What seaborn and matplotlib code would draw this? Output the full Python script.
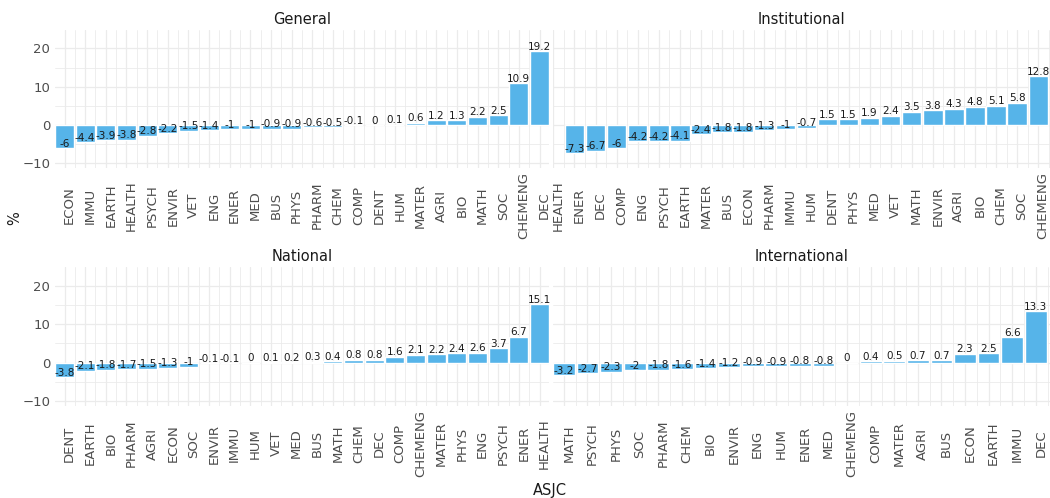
import numpy as np
import pandas as pd
import matplotlib
matplotlib.use("Agg")
import matplotlib.pyplot as plt
import matplotlib.transforms as mtransforms
from matplotlib.ticker import FixedLocator
import seaborn as sns

general_cats = ["ECON", "IMMU", "EARTH", "HEALTH", "PSYCH", "ENVIR", "VET", "ENG", "ENER", "MED",
                "BUS", "PHYS", "PHARM", "CHEM", "COMP", "DENT", "HUM", "MATER", "AGRI", "BIO",
                "MATH", "SOC", "CHEMENG", "DEC"]
general_vals = [-6, -4.4, -3.9, -3.8, -2.8, -2.2, -1.5, -1.4, -1, -1,
                -0.9, -0.9, -0.6, -0.5, -0.1, 0, 0.1, 0.6, 1.2, 1.3,
                2.2, 2.5, 10.9, 19.2]

inst_cats = ["HEALTH", "ENER", "DEC", "COMP", "ENG", "PSYCH", "EARTH", "MATER", "BUS", "ECON",
             "PHARM", "IMMU", "HUM", "DENT", "PHYS", "MED", "VET", "MATH", "ENVIR", "AGRI",
             "BIO", "CHEM", "SOC", "CHEMENG"]
inst_vals = [np.nan, -7.3, -6.7, -6, -4.2, -4.2, -4.1, -2.4, -1.8, -1.8,
             -1.3, -1, -0.7, 1.5, 1.5, 1.9, 2.4, 3.5, 3.8, 4.3,
             4.8, 5.1, 5.8, 12.8]

nat_cats = ["DENT", "EARTH", "BIO", "PHARM", "AGRI", "ECON", "SOC", "ENVIR", "IMMU", "HUM",
            "VET", "MED", "BUS", "MATH", "CHEM", "DEC", "COMP", "CHEMENG", "MATER", "PHYS",
            "ENG", "PSYCH", "ENER", "HEALTH"]
nat_vals = [-3.8, -2.1, -1.8, -1.7, -1.5, -1.3, -1, -0.1, -0.1, 0,
            0.1, 0.2, 0.3, 0.4, 0.8, 0.8, 1.6, 2.1, 2.2, 2.4,
            2.6, 3.7, 6.7, 15.1]

intl_cats = ["MATH", "PSYCH", "PHYS", "SOC", "PHARM", "CHEM", "BIO", "ENVIR", "ENG", "HUM",
             "ENER", "MED", "CHEMENG", "COMP", "MATER", "AGRI", "BUS", "ECON", "EARTH", "IMMU", "DEC"]
intl_vals = [-3.2, -2.7, -2.3, -2, -1.8, -1.6, -1.4, -1.2, -0.9, -0.9,
             -0.8, -0.8, 0, 0.4, 0.5, 0.7, 0.7, 2.3, 2.5, 6.6, 13.3]

panels = [
    ("General", general_cats, general_vals),
    ("Institutional", inst_cats, inst_vals),
    ("National", nat_cats, nat_vals),
    ("International", intl_cats, intl_vals),
]

sns.set_theme(style="white")
plt.rcParams["font.family"] = ["DejaVu Sans"]

W, H = 1050, 498
fig = plt.figure(figsize=(W / 100, H / 100), dpi=100)

# panel boxes in pixels: left, right, top, bottom
boxes = [(55, 549, 30, 168), (553, 1050, 30, 168),
         (55, 549, 267, 406), (553, 1050, 267, 406)]
xlims = [(-0.46, 23.46), (-0.02, 23.56), (-0.46, 23.46), (-0.46, 20.6)]

bar_color = "#56B4E9"
grid_color = "#EBEBEB"
offset = mtransforms.ScaledTranslation(5 / 100, 0, fig.dpi_scale_trans)

for i, ((title, cats, vals), (l, r, t, b)) in enumerate(zip(panels, boxes)):
    ax = fig.add_axes([l / W, 1 - b / H, (r - l) / W, (b - t) / H])
    df = pd.DataFrame({"asjc": cats, "pct": vals})
    sns.barplot(data=df, x="asjc", y="pct", order=cats, color=bar_color,
                width=0.92, saturation=1, ax=ax, errorbar=None)
    n = len(cats)
    for x, v in enumerate(vals):
        if np.isnan(v):
            continue
        ax.annotate(f"{v:g}", (x, v), xytext=(0, 1), textcoords="offset points",
                    ha="center", va="baseline", fontsize=7.5, color="#1A1A1A")
    ax.set_xlim(*xlims[i])
    ax.set_ylim(-11.2, 24.8)
    ax.set_yticks([-10, 0, 10, 20])
    ax.yaxis.set_minor_locator(FixedLocator([-5, 5, 15]))
    ax.xaxis.set_minor_locator(FixedLocator(np.arange(n) + 0.5))
    ax.set_axisbelow(True)
    ax.grid(True, which="major", color=grid_color, linewidth=0.9)
    ax.grid(True, which="minor", color=grid_color, linewidth=0.6)
    for s in ax.spines.values():
        s.set_visible(False)
    ax.tick_params(axis="both", which="both", length=0, colors="#4D4D4D", labelsize=9.5)
    ax.tick_params(axis="x", pad=27)
    ax.tick_params(axis="y", pad=3.5)
    for lab in ax.get_xticklabels():
        lab.set_rotation(90)
        lab.set_ha("center")
        lab.set_va("center")
        lab.set_transform(lab.get_transform() + offset)
    if i % 2 == 1:
        ax.tick_params(axis="y", labelleft=False)
    ax.set_xlabel("")
    ax.set_ylabel("")
    ax.set_title(title, fontsize=10.5, color="#1A1A1A", pad=4)

fig.text(15 / W, 1 - 218 / H, "%", rotation=90, ha="center", va="center",
         fontsize=10.5, color="#1A1A1A")
fig.text(550 / W, 1 - 490.5 / H, "ASJC", ha="center", va="center",
         fontsize=10.5, color="#1A1A1A")

fig.savefig("out.png", dpi=100)
